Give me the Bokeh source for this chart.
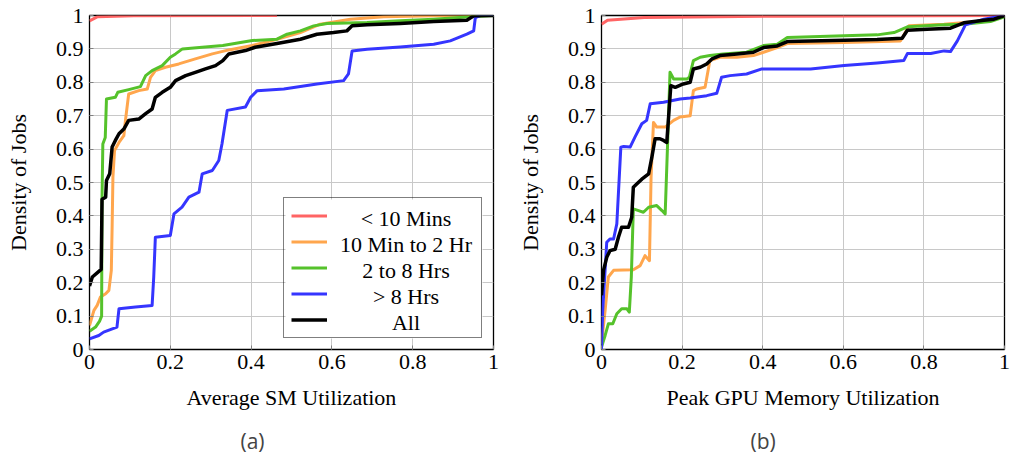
from bokeh.plotting import figure
from bokeh.layouts import row
from bokeh.models import (FixedTicker, Legend, LegendItem, Title, Range1d, ColumnDataSource,
                          BoxAnnotation)
from bokeh.core.properties import value
from bokeh.embed import file_html
from bokeh.resources import INLINE

# ---------------- data: (a) Average SM Utilization ----------------
sm_lt10_x = [0, 0.019, 0.11, 0.464]
sm_lt10_y = [0.984, 0.996, 0.999, 1.0]

sm_10m2h_x = [0, 0.011, 0.019, 0.027, 0.04, 0.048, 0.054, 0.056, 0.058, 0.062, 0.073, 0.085, 0.089, 0.097,
              0.122, 0.143, 0.151, 0.163, 0.188, 0.221, 0.262, 0.304, 0.345, 0.403, 0.464, 0.522, 0.571,
              0.646, 0.728, 0.852, 1.0]
sm_10m2h_y = [0.072, 0.117, 0.132, 0.157, 0.167, 0.177, 0.237, 0.366, 0.516, 0.596, 0.62, 0.64, 0.686, 0.765,
              0.775, 0.78, 0.815, 0.835, 0.845, 0.855, 0.87, 0.885, 0.897, 0.91, 0.929, 0.949, 0.974,
              0.989, 0.996, 0.999, 1.0]

sm_2to8_x = [0, 0.015, 0.025, 0.03, 0.031, 0.033, 0.039, 0.042, 0.064, 0.07, 0.097, 0.126, 0.139, 0.155, 0.18,
             0.2, 0.213, 0.23, 0.279, 0.33, 0.403, 0.464, 0.489, 0.522, 0.555, 0.588, 0.687, 0.769, 0.852,
             0.942, 1.0]
sm_2to8_y = [0.055, 0.067, 0.085, 0.1, 0.45, 0.615, 0.635, 0.75, 0.755, 0.77, 0.778, 0.787, 0.82, 0.835, 0.85,
             0.875, 0.885, 0.9, 0.905, 0.91, 0.925, 0.929, 0.944, 0.954, 0.969, 0.976, 0.979, 0.984, 0.989,
             0.996, 1.0]

sm_gt8_x = [0, 0.023, 0.035, 0.068, 0.073, 0.114, 0.155, 0.159, 0.163, 0.2, 0.209, 0.229, 0.246, 0.271, 0.279,
            0.304, 0.32, 0.328, 0.341, 0.386, 0.399, 0.415, 0.481, 0.563, 0.629, 0.641, 0.65, 0.687, 0.769,
            0.852, 0.893, 0.934, 0.951, 0.955, 0.967, 1.0]
sm_gt8_y = [0.032, 0.042, 0.052, 0.067, 0.122, 0.127, 0.132, 0.217, 0.336, 0.341, 0.406, 0.426, 0.456, 0.471,
            0.526, 0.536, 0.566, 0.616, 0.716, 0.726, 0.755, 0.775, 0.78, 0.795, 0.805, 0.825, 0.894, 0.899,
            0.906, 0.914, 0.924, 0.944, 0.954, 0.994, 1.0, 1.0]

sm_all_x = [0, 0.007, 0.029, 0.031, 0.04, 0.042, 0.05, 0.056, 0.064, 0.073, 0.085, 0.097, 0.122, 0.139, 0.155,
            0.163, 0.18, 0.2, 0.213, 0.238, 0.262, 0.287, 0.312, 0.33, 0.345, 0.386, 0.41, 0.464, 0.522, 0.563,
            0.604, 0.637, 0.65, 0.687, 0.769, 0.852, 0.934, 0.951, 1.0]
sm_all_y = [0.19, 0.217, 0.24, 0.45, 0.456, 0.506, 0.526, 0.606, 0.626, 0.646, 0.66, 0.686, 0.69, 0.706, 0.72,
            0.755, 0.77, 0.785, 0.805, 0.82, 0.83, 0.84, 0.85, 0.865, 0.885, 0.895, 0.905, 0.916, 0.929, 0.944,
            0.949, 0.954, 0.969, 0.972, 0.976, 0.982, 0.986, 0.999, 1.0]

# ---------------- data: (b) Peak GPU Memory Utilization ----------------
mem_lt10_x = [0, 0.015, 0.106, 0.436, 1.0]
mem_lt10_y = [0.974, 0.986, 0.994, 0.998, 1.0]

mem_10m2h_x = [0, 0.009, 0.017, 0.03, 0.079, 0.096, 0.108, 0.119, 0.123, 0.129, 0.137, 0.158, 0.179, 0.195, 0.22,
               0.228, 0.236, 0.257, 0.269, 0.294, 0.336, 0.377, 0.402, 0.436, 0.461, 0.602, 0.742, 0.763, 0.85,
               0.932, 1.0]
mem_10m2h_y = [0.017, 0.117, 0.217, 0.237, 0.239, 0.251, 0.281, 0.266, 0.516, 0.68, 0.666, 0.666, 0.686, 0.696,
               0.7, 0.775, 0.78, 0.785, 0.865, 0.875, 0.875, 0.88, 0.89, 0.904, 0.916, 0.919, 0.924, 0.969, 0.974,
               0.982, 0.998]

mem_2to8_x = [0, 0.009, 0.017, 0.028, 0.038, 0.05, 0.063, 0.069, 0.074, 0.079, 0.092, 0.104, 0.117, 0.137, 0.15,
              0.158, 0.164, 0.17, 0.179, 0.212, 0.218, 0.228, 0.245, 0.269, 0.302, 0.36, 0.402, 0.436, 0.461,
              0.602, 0.684, 0.726, 0.759, 0.85, 0.899, 0.965, 1.0]
mem_2to8_y = [0.007, 0.042, 0.077, 0.077, 0.107, 0.122, 0.122, 0.112, 0.217, 0.421, 0.416, 0.411, 0.426, 0.431,
              0.416, 0.406, 0.616, 0.83, 0.81, 0.81, 0.815, 0.865, 0.875, 0.88, 0.885, 0.89, 0.91, 0.914, 0.934,
              0.939, 0.942, 0.949, 0.966, 0.972, 0.974, 0.982, 0.996]

mem_gt8_x = [0, 0.003, 0.013, 0.021, 0.03, 0.038, 0.048, 0.055, 0.071, 0.083, 0.1, 0.112, 0.121, 0.154, 0.195,
             0.22, 0.261, 0.286, 0.298, 0.319, 0.36, 0.398, 0.519, 0.602, 0.684, 0.75, 0.759, 0.817, 0.85, 0.866,
             0.883, 0.903, 0.949, 1.0]
mem_gt8_y = [0.002, 0.117, 0.321, 0.331, 0.331, 0.376, 0.606, 0.608, 0.606, 0.636, 0.676, 0.686, 0.736, 0.74,
             0.75, 0.753, 0.76, 0.767, 0.815, 0.82, 0.825, 0.84, 0.84, 0.85, 0.858, 0.865, 0.886, 0.886, 0.894,
             0.892, 0.924, 0.972, 0.989, 1.0]

mem_all_x = [0, 0.005, 0.013, 0.021, 0.034, 0.042, 0.05, 0.067, 0.075, 0.079, 0.088, 0.1, 0.117, 0.125, 0.133,
             0.145, 0.154, 0.162, 0.172, 0.183, 0.203, 0.22, 0.228, 0.245, 0.261, 0.274, 0.294, 0.336, 0.377,
             0.402, 0.436, 0.461, 0.519, 0.602, 0.684, 0.746, 0.759, 0.808, 0.866, 0.899, 0.949, 0.974, 1.0]
mem_all_y = [0.162, 0.237, 0.276, 0.296, 0.3, 0.336, 0.366, 0.366, 0.396, 0.486, 0.496, 0.51, 0.526, 0.576, 0.631,
             0.631, 0.626, 0.62, 0.79, 0.785, 0.795, 0.8, 0.84, 0.845, 0.855, 0.87, 0.88, 0.885, 0.89, 0.904,
             0.909, 0.922, 0.924, 0.926, 0.928, 0.932, 0.956, 0.959, 0.962, 0.978, 0.986, 0.989, 1.0]

series_names = ["< 10 Mins", "10 Min to 2 Hr", "2 to 8 Hrs", "> 8 Hrs", "All"]
series_colors = ["#ff6464", "#ffa64d", "#55c22b", "#3535ff", "#000000"]
series_widths = [3, 3, 3, 3, 3.5]

x_ticks = [0, 0.2, 0.4, 0.6, 0.8, 1.0]
x_tick_labels = ["0", "0.2", "0.4", "0.6", "0.8", "1"]
y_ticks = [0, 0.1, 0.2, 0.3, 0.4, 0.5, 0.6, 0.7, 0.8, 0.9, 1.0]
y_tick_labels = ["0", "0.1", "0.2", "0.3", "0.4", "0.5", "0.6", "0.7", "0.8", "0.9", "1"]

SERIF = "Liberation Serif"
FS = "22px"
FRAME_W1, FRAME_W2, FRAME_H = 404, 403, 334


def make_fig(xlabel, sub, left_border, right_border, fw, sub_offset):
    p = figure(frame_width=fw, frame_height=FRAME_H, output_backend="svg", toolbar_location=None,
               x_range=Range1d(0, 1), y_range=Range1d(0, 1),
               min_border_left=left_border, min_border_right=right_border,
               min_border_top=15, min_border_bottom=111)
    p.outline_line_color = "black"
    p.outline_line_width = 1.3
    p.background_fill_color = "white"
    p.border_fill_color = "white"
    for ax in (p.xaxis[0], p.yaxis[0]):
        ax.axis_line_color = None
        ax.major_tick_in = 4
        ax.major_tick_out = 0
        ax.major_tick_line_color = "#808080"
        ax.minor_tick_line_color = None
        ax.major_label_text_font = SERIF
        ax.major_label_text_font_size = FS
        ax.major_label_text_color = "black"
        ax.axis_label_text_font = SERIF
        ax.axis_label_text_font_size = FS
        ax.axis_label_text_font_style = "normal"
        ax.axis_label_text_color = "black"
    p.xaxis.ticker = FixedTicker(ticks=x_ticks)
    p.xaxis.major_label_overrides = dict(zip(x_ticks, x_tick_labels))
    p.yaxis.ticker = FixedTicker(ticks=y_ticks)
    p.yaxis.major_label_overrides = dict(zip(y_ticks, y_tick_labels))
    p.xaxis.axis_label = xlabel
    p.yaxis.axis_label = "Density of Jobs"
    p.xaxis.major_label_standoff = 5
    p.xaxis.axis_label_standoff = 13
    p.yaxis.major_label_standoff = 6
    p.yaxis.axis_label_standoff = 22
    p.grid.grid_line_color = "#c8c8c8"
    p.grid.grid_line_width = 1
    p.add_layout(Title(text=sub, align="left", text_font="Open Sans", text_font_size="21px",
                       text_font_style="normal", standoff=24, offset=sub_offset), "below")
    return p


p1 = make_fig("Average SM Utilization", "(a)", 89, 14, FRAME_W1, 151)
p2 = make_fig("Peak GPU Memory Utilization", "(b)", 94, 11, FRAME_W2, 149)

sm_series = [(sm_lt10_x, sm_lt10_y), (sm_10m2h_x, sm_10m2h_y), (sm_2to8_x, sm_2to8_y),
             (sm_gt8_x, sm_gt8_y), (sm_all_x, sm_all_y)]
mem_series = [(mem_lt10_x, mem_lt10_y), (mem_10m2h_x, mem_10m2h_y), (mem_2to8_x, mem_2to8_y),
              (mem_gt8_x, mem_gt8_y), (mem_all_x, mem_all_y)]

items = []
for (xs, ys), c, w in zip(sm_series, series_colors, series_widths):
    r = p1.line(xs, ys, line_color=c, line_width=w, line_join="round")
    items.append(LegendItem(label=" ", renderers=[r]))
for (xs, ys), c, w in zip(mem_series, series_colors, series_widths):
    p2.line(xs, ys, line_color=c, line_width=w, line_join="round")

# legend geometry (pixels)
LEG_MARGIN, LEG_PAD, LEG_ROW, LEG_SPACING = 11, 7, 21, 5
LEG_GLYPH_W, LEG_STANDOFF, LEG_LABEL_W = 36, 8, 139
n = len(series_names)
box_w = 2 * LEG_PAD + LEG_GLYPH_W + LEG_STANDOFF + LEG_LABEL_W
box_h = 2 * LEG_PAD + n * LEG_ROW + (n - 1) * LEG_SPACING
box_right = FRAME_W1 - LEG_MARGIN
box_bottom = LEG_MARGIN

# white background under the legend (legend itself is drawn transparent on top)
p1.add_layout(BoxAnnotation(left=(box_right - box_w) / FRAME_W1, right=box_right / FRAME_W1,
                            bottom=box_bottom / FRAME_H, top=(box_bottom + box_h) / FRAME_H,
                            fill_color="white", fill_alpha=1.0, line_color=None, level="annotation"))

legend = Legend(items=items, location="bottom_right", margin=LEG_MARGIN,
                label_text_font=SERIF, label_text_font_size="8px",
                label_width=LEG_LABEL_W, label_height=LEG_ROW, label_standoff=LEG_STANDOFF,
                glyph_width=LEG_GLYPH_W, glyph_height=LEG_ROW,
                spacing=LEG_SPACING, padding=LEG_PAD, border_line_color="black", border_line_width=1,
                background_fill_alpha=0.0)
p1.add_layout(legend)

# centred legend labels
label_cx = box_right - LEG_PAD - LEG_LABEL_W / 2
lab_x = [label_cx / FRAME_W1] * n
lab_y = [(box_bottom + box_h - LEG_PAD - LEG_ROW / 2 - i * (LEG_ROW + LEG_SPACING) - 1.5) / FRAME_H
         for i in range(n)]
lab_src = ColumnDataSource(dict(x=lab_x, y=lab_y, text=series_names))
p1.text(x="x", y="y", text="text", source=lab_src, text_align="center", text_baseline="middle",
        text_font=value(SERIF), text_font_size=FS, text_color="black", level="overlay")

layout = row(p1, p2)
open("out.html", "w").write(file_html(layout, INLINE))
